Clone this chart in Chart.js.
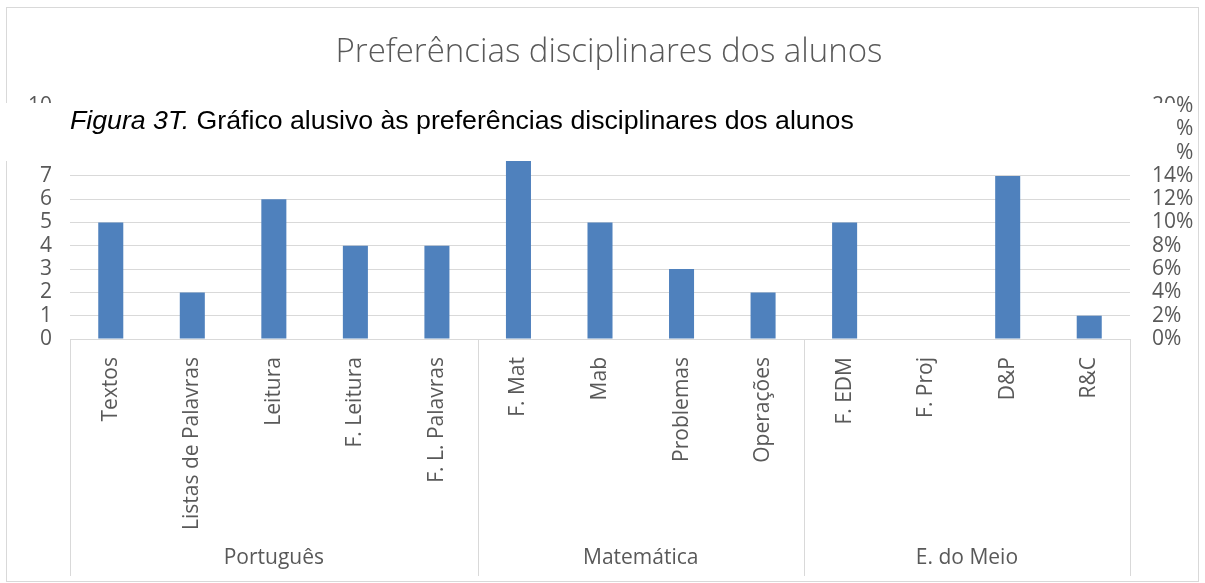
<!DOCTYPE html>
<html>
<head>
<meta charset="utf-8">
<title>Preferências disciplinares dos alunos</title>
<script src="https://cdn.jsdelivr.net/npm/chart.js@4/dist/chart.umd.min.js"></script>
<style>
  html, body { margin: 0; padding: 0; background: #fff; }
  #wrap { width: 1205px; height: 583px; position: relative; }
</style>
</head>
<body>
<div id="wrap"><canvas id="prefChart"></canvas></div>
<script>
const categories = ['Textos', 'Listas de Palavras', 'Leitura', 'F. Leitura', 'F. L. Palavras',
  'F. Mat', 'Mab', 'Problemas', 'Operações',
  'F. EDM', 'F. Proj', 'D&P', 'R&C'];
const counts = [5, 2, 6, 4, 4, 8, 5, 3, 2, 5, 0, 7, 1];
const groups = ['Português', 'Matemática', 'E. do Meio'];
const groupSizes = [5, 4, 4];
const countTicks = [0, 1, 2, 3, 4, 5, 6, 7, 8, 9, 10];
const pctTicks = [0, 0.02, 0.04, 0.06, 0.08, 0.10, 0.12, 0.14, 0.16, 0.18, 0.20];

const TITLE = 'Preferências disciplinares dos alunos';
const CAPTION_ITALIC = 'Figura 3T.';
const CAPTION_REST = ' Gráfico alusivo às preferências disciplinares dos alunos';

const textGrey = '#595959';
const lineGrey = '#d9d9d9';
const tickFont = { family: 'Open Sans', size: 21 };

// frame, title, group separators + names, and the caption band on top
const decorations = {
  id: 'decorations',
  beforeDraw(chart) {
    const { ctx } = chart;
    ctx.save();
    ctx.fillStyle = '#fff';
    ctx.fillRect(0, 0, chart.width, chart.height);
    ctx.strokeStyle = lineGrey;
    ctx.lineWidth = 1;
    ctx.strokeRect(6.5, 7.5, 1192, 574);
    ctx.fillStyle = textGrey;
    ctx.font = '300 33px "Open Sans"';
    ctx.textAlign = 'center';
    ctx.textBaseline = 'middle';
    ctx.fillText(TITLE, 609, 53);
    ctx.restore();
  },
  afterDraw(chart) {
    const { ctx, chartArea } = chart;
    const x = chart.scales.x;
    const half = (x.getPixelForValue(1) - x.getPixelForValue(0)) / 2;
    const lineBottom = 576;
    ctx.save();
    ctx.strokeStyle = lineGrey;
    ctx.lineWidth = 1;
    ctx.fillStyle = textGrey;
    ctx.font = '21px "Open Sans"';
    ctx.textAlign = 'center';
    ctx.textBaseline = 'middle';
    let start = 0;
    const edges = [x.getPixelForValue(0) - half];
    groups.forEach((g, i) => {
      const end = start + groupSizes[i] - 1;
      const left = x.getPixelForValue(start) - half;
      const right = x.getPixelForValue(end) + half;
      edges.push(right);
      ctx.fillText(g, (left + right) / 2, 558);
      start = end + 1;
    });
    edges.forEach(px => {
      const p = Math.round(px) + 0.5;
      ctx.beginPath();
      ctx.moveTo(p, chartArea.bottom);
      ctx.lineTo(p, lineBottom);
      ctx.stroke();
    });

    // caption band laid over the upper part of the plot
    ctx.fillStyle = '#fff';
    ctx.fillRect(0, 103, 1177, 58);
    ctx.fillStyle = '#000';
    ctx.textAlign = 'left';
    ctx.textBaseline = 'alphabetic';
    ctx.font = 'italic 26.7px "Liberation Sans"';
    ctx.fillText(CAPTION_ITALIC, 70, 129);
    const w = ctx.measureText(CAPTION_ITALIC).width;
    ctx.font = '26.7px "Liberation Sans"';
    ctx.fillText(CAPTION_REST, 70 + w, 129);
    ctx.restore();
  }
};

new Chart(document.getElementById('prefChart'), {
  type: 'bar',
  data: {
    labels: categories,
    datasets: [{
      label: 'Alunos',
      data: counts,
      backgroundColor: '#4f81bd',
      borderWidth: 0,
      categoryPercentage: 1,
      barPercentage: 0.307,
      yAxisID: 'y'
    }]
  },
  options: {
    responsive: true,
    maintainAspectRatio: false,
    animation: false,
    devicePixelRatio: 1,
    layout: { padding: { top: 106, left: 0, right: 0, bottom: 0 } },
    plugins: {
      legend: { display: false },
      tooltip: { enabled: false },
      title: { display: false }
    },
    scales: {
      x: {
        grid: { display: false },
        border: { display: true, color: lineGrey },
        ticks: {
          color: textGrey,
          font: tickFont,
          minRotation: 90,
          maxRotation: 90,
          autoSkip: false,
          padding: 10
        },
        afterFit: s => { s.height = 244; }
      },
      y: {
        position: 'left',
        min: 0,
        max: 10,
        afterBuildTicks: s => { s.ticks = countTicks.map(v => ({ value: v })); },
        grid: { color: lineGrey, drawTicks: false },
        border: { display: false },
        ticks: { color: textGrey, font: tickFont, padding: 18, autoSkip: false },
        afterFit: s => { s.width = 70; }
      },
      y1: {
        position: 'right',
        min: 0,
        max: 0.2,
        afterBuildTicks: s => { s.ticks = pctTicks.map(v => ({ value: v })); },
        grid: { display: false, drawTicks: false },
        border: { display: false },
        ticks: {
          color: textGrey,
          font: tickFont,
          padding: 22,
          autoSkip: false,
          callback: v => Math.round(v * 100) + '%'
        },
        afterFit: s => { s.width = 75; }
      }
    }
  },
  plugins: [decorations]
});
</script>
</body>
</html>
